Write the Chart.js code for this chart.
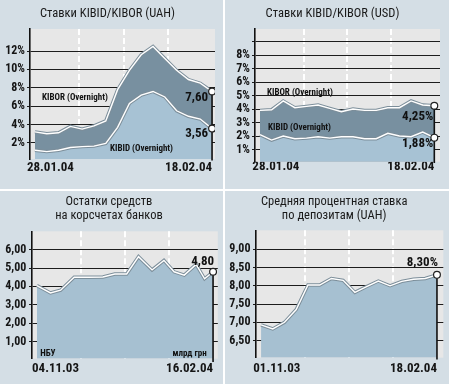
<!DOCTYPE html>
<html>
<head>
<meta charset="utf-8">
<title>Ставки KIBID/KIBOR</title>
<script src="https://cdn.jsdelivr.net/npm/chart.js@4.4.1/dist/chart.umd.min.js"></script>
<style>
  body { margin: 0; background: #fff; }
  #wrap { position: relative; width: 450px; height: 384px; background: #fff; overflow: hidden; }
  canvas { position: absolute; background: #d4dee5; }
</style>
</head>
<body>
<div id="wrap">
  <canvas id="uahChart" width="223" height="189" style="left:0;top:0"></canvas>
  <canvas id="usdChart" width="224" height="189" style="left:225px;top:0"></canvas>
  <canvas id="resChart" width="223" height="193" style="left:0;top:191px"></canvas>
  <canvas id="depChart" width="224" height="193" style="left:225px;top:191px"></canvas>
</div>
<script>
// ---- data ----
const uahDates = ["28.01.04", "18.02.04"];
const uahKibor = [3.2, 3.0, 3.1, 3.8, 3.5, 3.85, 4.4, 7.8, 9.9, 11.6, 12.5, 11.2, 9.9, 8.9, 8.5, 7.6];
const uahKibid = [1.2, 1.05, 1.2, 1.5, 1.6, 1.65, 1.95, 3.7, 6.3, 7.2, 7.6, 7.0, 5.5, 4.9, 4.6, 3.56];
const uahTicks = [2, 4, 6, 8, 10, 12];

const usdDates = ["28.01.04", "18.02.04"];
const usdKibor = [3.9, 3.95, 4.6, 4.1, 4.2, 4.3, 4.05, 3.8, 4.0, 3.9, 3.9, 4.1, 4.1, 4.6, 4.3, 4.25];
const usdKibid = [2.1, 1.7, 2.0, 1.8, 1.85, 1.95, 1.85, 1.95, 1.95, 1.8, 1.8, 2.2, 2.0, 1.95, 2.3, 1.88];
const usdTicks = [1, 2, 3, 4, 5, 6, 7, 8, 9];

// balances on correspondent accounts, bn UAH (days since 04.11.03)
const resDates = ["04.11.03", "16.02.04"];
const resDays = [0, 8, 14, 22, 30, 39, 46, 53, 60, 68, 75, 81, 87, 94, 99, 104];
const resValues = [4.05, 3.65, 3.8, 4.5, 4.5, 4.52, 4.68, 4.68, 5.62, 4.9, 5.42, 4.8, 4.62, 5.2, 4.42, 4.8];
const resTicks = [1, 2, 3, 4, 5, 6];

const depDates = ["01.11.03", "18.02.04"];
const depValues = [6.93, 6.82, 7.0, 7.35, 8.02, 8.02, 8.2, 8.15, 7.82, 7.98, 8.13, 8.0, 8.12, 8.18, 8.2, 8.3];
const depTicks = [6.5, 7, 7.5, 8, 8.5, 9];

const FONT = "'Roboto Condensed', 'Open Sans', sans-serif";
Chart.defaults.font.family = FONT;
Chart.defaults.color = "#151515";

const KIBOR_FILL = "#7890a0";
const KIBID_FILL = "#a7c2d4";
const AREA_FILL = "#a6c0d1";

function comma(v, digits) {
  return v.toFixed(digits).replace(".", ",");
}

function last(arr) {
  return arr[arr.length - 1];
}

function toPoints(xs, ys) {
  return ys.map((v, i) => ({ x: xs ? xs[i] : i, y: v }));
}

function quarters(a, b) {
  return [1, 2, 3].map((k) => a + ((b - a) * k) / 4);
}

// light grey plot background
const plotBg = {
  id: "plotBg",
  beforeDraw: (chart) => {
    const a = chart.chartArea;
    const ctx = chart.ctx;
    ctx.save();
    ctx.fillStyle = "#e7e7e7";
    ctx.fillRect(a.left, a.top, a.right - a.left, a.bottom - a.top);
    ctx.restore();
  },
};

// text notes placed in data space
const notes = {
  id: "notes",
  afterDraw: (chart, args, opts) => {
    const ctx = chart.ctx;
    const xs = chart.scales.x;
    const ys = chart.scales.y;
    ctx.save();
    (opts.items || []).forEach((n) => {
      ctx.font = "bold " + n.size + "px " + FONT;
      ctx.fillStyle = "#111";
      ctx.textAlign = n.align || "left";
      ctx.textBaseline = "middle";
      ctx.fillText(
        n.text,
        xs.getPixelForValue(n.x) + (n.dx || 0),
        ys.getPixelForValue(n.y) + (n.dy || 0)
      );
    });
    ctx.restore();
  },
};

function areaSet(points, color, order) {
  return {
    data: points,
    fill: "start",
    backgroundColor: color,
    borderWidth: 0,
    pointRadius: 0,
    order: order,
  };
}

function lineSets(points) {
  const n = points.length;
  return [
    {
      data: points,
      borderColor: "#7c8e9a",
      borderWidth: 3.4,
      pointRadius: 0,
      fill: false,
      order: 2,
    },
    {
      data: points,
      borderColor: "#ffffff",
      borderWidth: 1.4,
      fill: false,
      order: 1,
      pointRadius: (c) => (c.dataIndex === n - 1 ? 3.4 : 0),
      pointBackgroundColor: "#ffffff",
      pointBorderColor: "#222",
      pointBorderWidth: 1.2,
    },
  ];
}

function endLine(x, yTop, yBottom) {
  return {
    data: [
      { x: x, y: yTop },
      { x: x, y: yBottom },
    ],
    borderColor: "#111",
    borderWidth: 1.6,
    pointRadius: 0,
    fill: false,
    clip: false,
    order: 3,
  };
}

function makeChart(id, o) {
  const ctx = document.getElementById(id).getContext("2d");
  const xTicks = [o.xFirst].concat(quarters(o.x0, o.x1), [o.x1]);
  return new Chart(ctx, {
    type: "line",
    data: { datasets: o.datasets },
    options: {
      responsive: false,
      animation: false,
      layout: { padding: { left: 0, right: o.padRight, top: 0, bottom: 0 } },
      elements: { line: { tension: 0 } },
      plugins: {
        legend: { display: false },
        tooltip: { enabled: false },
        title: {
          display: true,
          text: o.title,
          color: "#1a1a1a",
          font: { size: 12.5, weight: "normal", lineHeight: o.titleLine / 12.5 },
          padding: o.titlePad,
        },
        notes: { items: o.notes },
      },
      scales: {
        x: {
          type: "linear",
          min: o.xMin,
          max: o.xMax,
          afterBuildTicks: (s) => {
            s.ticks = xTicks.map((v) => ({ value: v }));
          },
          afterFit: (s) => {
            s.height = o.xHeight;
          },
          grid: {
            color: (c) =>
              c.index === 0 || c.index === xTicks.length - 1 ? "rgba(0,0,0,0)" : "#ffffff",
            lineWidth: 2,
            drawTicks: false,
          },
          border: { display: false, dash: [6, 3] },
          ticks: {
            align: "inner",
            autoSkip: false,
            maxRotation: 0,
            padding: o.xPad,
            color: "#151515",
            font: { size: 13, weight: "bold", lineHeight: 1 },
            callback: (v, i) => (i === 0 ? o.dates[0] : i === xTicks.length - 1 ? o.dates[1] : ""),
          },
        },
        y: {
          min: o.yMin,
          max: o.yMax,
          z: 1,
          afterBuildTicks: (s) => {
            s.ticks = o.yTicks.map((v) => ({ value: v }));
          },
          afterFit: (s) => {
            s.width = o.yWidth;
          },
          grid: { color: "#1c1c1c", lineWidth: 1, tickLength: 3 },
          border: { color: "#111", width: 1.6 },
          ticks: {
            autoSkip: false,
            padding: o.yPad,
            color: "#151515",
            font: { size: 12, weight: "bold" },
            callback: o.yLabel,
          },
        },
      },
    },
    plugins: [plotBg, notes],
  });
}

function uahChart() {
  const kibor = toPoints(null, uahKibor);
  const kibid = toPoints(null, uahKibid);
  const n = uahKibor.length - 1;
  makeChart("uahChart", {
    title: "Ставки KIBID/KIBOR (UAH)",
    titleLine: 15,
    titlePad: { top: 6.5, bottom: 7.5 },
    dates: uahDates,
    datasets: [
      areaSet(kibor, KIBOR_FILL, 6),
      areaSet(kibid, KIBID_FILL, 5),
      endLine(n, last(uahKibor), 0.1),
    ]
      .concat(lineSets(kibor))
      .concat(lineSets(kibid)),
    x0: 0,
    x1: n,
    xFirst: -0.68,
    xMin: -0.42,
    xMax: 15.25,
    xHeight: 30,
    xPad: 1.8,
    yMin: 0.25,
    yMax: 14.4,
    yTicks: uahTicks,
    yWidth: 30,
    yPad: 2,
    yLabel: (v) => v + "%",
    padRight: 8,
    notes: [
      { text: "KIBOR (Overnight)", x: 0.6, y: 6.9, size: 9 },
      { text: "KIBID (Overnight)", x: 6.36, y: 1.35, size: 9 },
      { text: comma(last(uahKibor), 2), x: n, y: last(uahKibor), dx: -4, dy: 6, align: "right", size: 13 },
      { text: comma(last(uahKibid), 2), x: n, y: last(uahKibid), dx: -4, dy: 5, align: "right", size: 13 },
    ],
  });
}

function usdChart() {
  const kibor = toPoints(null, usdKibor);
  const kibid = toPoints(null, usdKibid);
  const n = usdKibor.length - 1;
  makeChart("usdChart", {
    title: "Ставки KIBID/KIBOR (USD)",
    titleLine: 15,
    titlePad: { top: 6.5, bottom: 7.5 },
    dates: usdDates,
    datasets: [
      areaSet(kibor, KIBOR_FILL, 6),
      areaSet(kibid, KIBID_FILL, 5),
      endLine(n, last(usdKibor), 0.0),
    ]
      .concat(lineSets(kibor))
      .concat(lineSets(kibid)),
    x0: 0,
    x1: n,
    xFirst: -0.66,
    xMin: -0.43,
    xMax: 15.49,
    xHeight: 27.3,
    xPad: -1.5,
    yMin: 0.1,
    yMax: 9.93,
    yTicks: usdTicks,
    yWidth: 30,
    yPad: 2,
    yLabel: (v) => (v === 9 ? "" : v + "%"),
    padRight: 9,
    notes: [
      { text: "KIBOR (Overnight)", x: 0.6, y: 5.18, size: 9 },
      { text: "KIBID (Overnight)", x: 0.69, y: 2.58, size: 9 },
      { text: comma(last(usdKibor), 2) + "%", x: n, y: last(usdKibor), dx: -1, dy: 11, align: "right", size: 13 },
      { text: comma(last(usdKibid), 2) + "%", x: n, y: last(usdKibid), dx: -1, dy: 6.5, align: "right", size: 13 },
    ],
  });
}

function resChart() {
  const pts = toPoints(resDays, resValues);
  const n = last(resDays);
  makeChart("resChart", {
    title: ["Остатки средств", "на корсчетах банков"],
    titleLine: 14,
    titlePad: { top: 4, bottom: 8.3 },
    dates: resDates,
    datasets: [areaSet(pts, AREA_FILL, 5), endLine(n, last(resValues), -0.1)].concat(lineSets(pts)),
    x0: 0,
    x1: n,
    xFirst: -2.9,
    xMin: -2.9,
    xMax: 106.8,
    xHeight: 25.3,
    xPad: 3.5,
    yMin: 0.076,
    yMax: 7.0,
    yTicks: resTicks,
    yWidth: 32,
    yPad: 2.7,
    yLabel: (v) => comma(v, 2),
    padRight: 5,
    notes: [
      { text: "НБУ", x: 1.9, y: 0.35, size: 9 },
      { text: "млрд грн", x: 100.3, y: 0.35, align: "right", size: 9 },
      { text: comma(last(resValues), 2), x: n, y: last(resValues), dx: 1, dy: -10, align: "right", size: 13 },
    ],
  });
}

function depChart() {
  const pts = toPoints(null, depValues);
  const n = depValues.length - 1;
  makeChart("depChart", {
    title: ["Средняя процентная ставка", "по депозитам (UAH)"],
    titleLine: 14,
    titlePad: { top: 4, bottom: 7.3 },
    dates: depDates,
    datasets: [areaSet(pts, AREA_FILL, 5), endLine(n, last(depValues), 5.98)].concat(lineSets(pts)),
    x0: 0,
    x1: n,
    xFirst: -0.66,
    xMin: -0.43,
    xMax: 15.54,
    xHeight: 26.3,
    xPad: 4.5,
    yMin: 6.03,
    yMax: 9.52,
    yTicks: depTicks,
    yWidth: 31,
    yPad: 2.5,
    yLabel: (v) => comma(v, 2),
    padRight: 5.7,
    notes: [
      { text: comma(last(depValues), 2) + "%", x: n, y: last(depValues), dx: 1, dy: -12, align: "right", size: 13 },
    ],
  });
}

uahChart();
usdChart();
resChart();
depChart();
</script>
</body>
</html>
